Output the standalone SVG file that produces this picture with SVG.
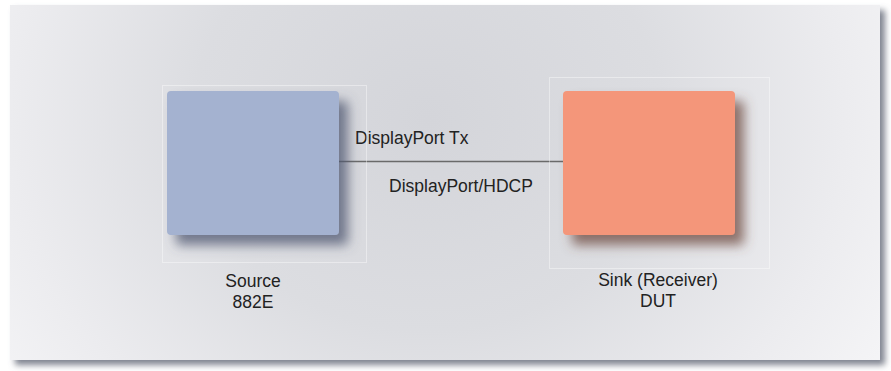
<svg xmlns="http://www.w3.org/2000/svg" width="891" height="371" viewBox="0 0 891 371">
  <style>
    .lbl { font-family: "Liberation Sans", Arial, sans-serif; font-size: 17.5px; fill: #222222; }
    .frame { fill: none; stroke: #ffffff; stroke-opacity: 0.4; stroke-width: 1; }
    .conn { stroke: #6a6a6a; stroke-width: 1.5; fill: none; }
  </style>
  <defs>
    <radialGradient id="bg" cx="0.48" cy="0.42" r="0.6" gradientTransform="translate(0.5 0.5) scale(1 2.2) translate(-0.5 -0.5)">
      <stop offset="0" stop-color="#d4d5da"/>
      <stop offset="0.45" stop-color="#dcdde1"/>
      <stop offset="0.8" stop-color="#ececef"/>
      <stop offset="1" stop-color="#f4f4f6"/>
    </radialGradient>
    <filter id="panelShadow" x="-5%" y="-5%" width="112%" height="115%">
      <feGaussianBlur in="SourceAlpha" stdDeviation="3"/>
      <feOffset dx="5" dy="5" result="b"/>
      <feFlood flood-color="#6a6f7e" flood-opacity="0.85"/>
      <feComposite in2="b" operator="in"/>
      <feMerge><feMergeNode/><feMergeNode in="SourceGraphic"/></feMerge>
    </filter>
    <filter id="srcShadow" x="-20%" y="-20%" width="150%" height="150%">
      <feGaussianBlur in="SourceAlpha" stdDeviation="6"/>
      <feOffset dx="9" dy="10" result="b"/>
      <feFlood flood-color="#4e5670" flood-opacity="0.75"/>
      <feComposite in2="b" operator="in"/>
      <feMerge><feMergeNode/><feMergeNode in="SourceGraphic"/></feMerge>
    </filter>
    <filter id="sinkShadow" x="-20%" y="-20%" width="150%" height="150%">
      <feGaussianBlur in="SourceAlpha" stdDeviation="6"/>
      <feOffset dx="9" dy="10" result="b"/>
      <feFlood flood-color="#6e4a40" flood-opacity="0.75"/>
      <feComposite in2="b" operator="in"/>
      <feMerge><feMergeNode/><feMergeNode in="SourceGraphic"/></feMerge>
    </filter>
  </defs>
  <rect x="0" y="0" width="891" height="371" fill="#ffffff"/>
  <rect id="panel" x="10" y="5" width="870" height="355" fill="url(#bg)" filter="url(#panelShadow)"/>

  <g id="connectors">
    <line class="conn" x1="339" y1="161.5" x2="563" y2="161.5"/>
    <text class="lbl" x="355" y="144">DisplayPort Tx</text>
    <text class="lbl" x="389" y="192">DisplayPort/HDCP</text>
  </g>

  <g id="source">
    <rect class="frame" x="162.5" y="85.5" width="204" height="177"/>
    <rect x="167" y="91" width="172" height="144" rx="4" fill="#a4b2d0" filter="url(#srcShadow)"/>
    <text class="lbl" x="253" y="287" text-anchor="middle">Source</text>
    <text class="lbl" x="253" y="308" text-anchor="middle">882E</text>
  </g>

  <g id="sink">
    <rect class="frame" x="549.5" y="77.5" width="220" height="191"/>
    <rect x="563" y="91" width="172" height="144" rx="4" fill="#f4967a" filter="url(#sinkShadow)"/>
    <text class="lbl" x="658" y="286" text-anchor="middle">Sink (Receiver)</text>
    <text class="lbl" x="658" y="307" text-anchor="middle">DUT</text>
  </g>
</svg>
